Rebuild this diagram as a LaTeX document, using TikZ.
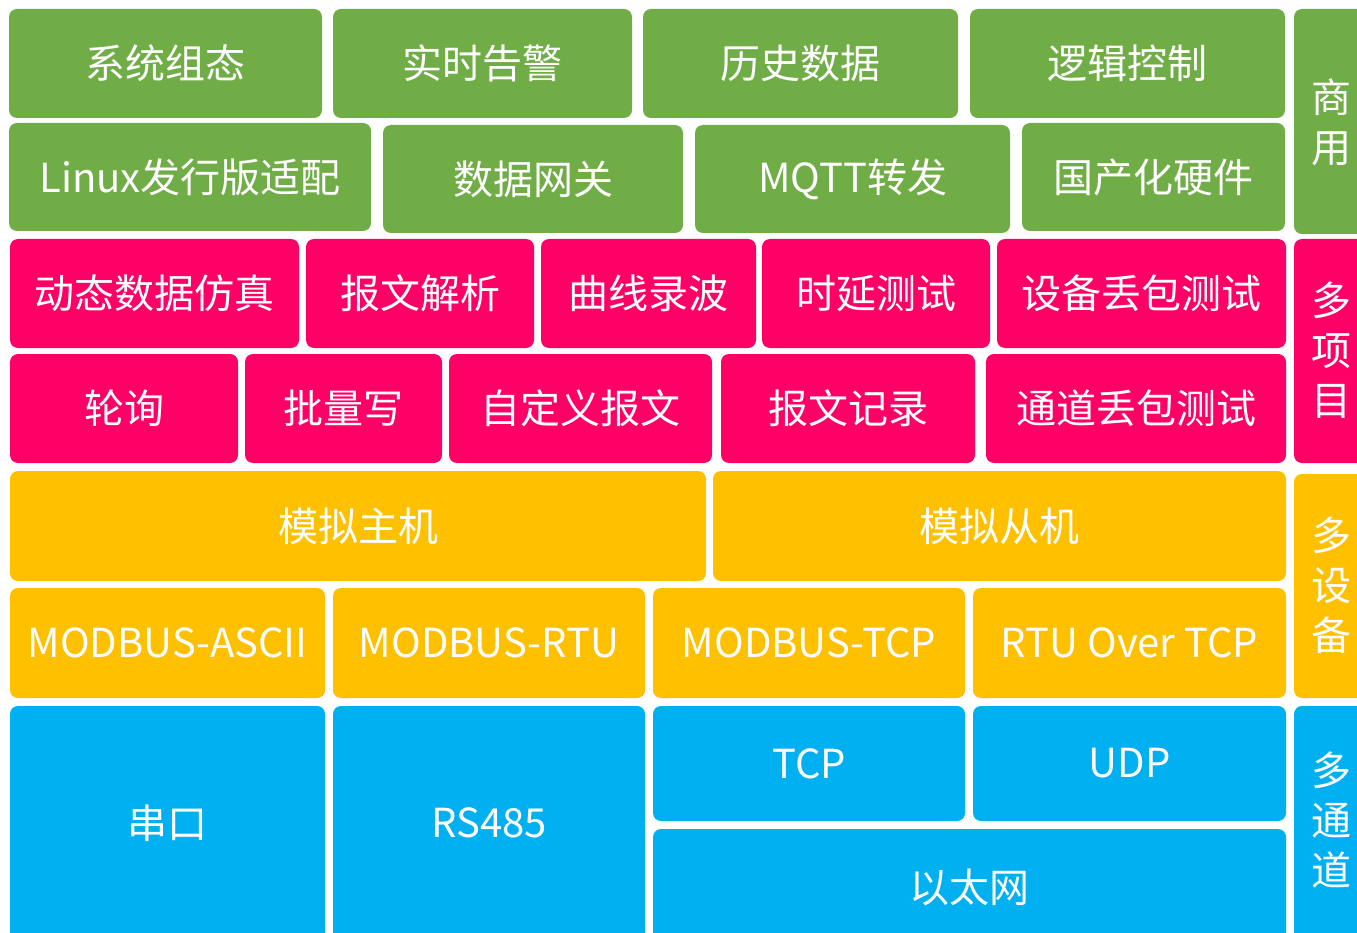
\documentclass[tikz,border=0pt]{standalone}
\usepackage{fontspec}
\setmainfont{Noto Sans CJK SC}
\definecolor{cgreen}{HTML}{70AD47}
\definecolor{cpink}{HTML}{FF0066}
\definecolor{cyellow}{HTML}{FFC000}
\definecolor{cblue}{HTML}{00B0F0}
\tikzset{
  blk/.style={rounded corners=8pt, inner sep=0pt, outer sep=0pt, text=white,
    font=\fontsize{40}{50}\selectfont, align=center},
}
\newcommand\blk[7]{\node[blk,fill=#6,minimum width={#4pt-#2pt},minimum height={#5pt-#3pt}] (#1) at ({(#2+#4)/2},{(#3+#5)/2}) {#7};}
\begin{document}
\begin{tikzpicture}[x=1pt,y=-1pt]
\useasboundingbox (0,0) rectangle (1357,933);
\clip (0,0) rectangle (1357,933);
% green
\blk{a1}{9}{9}{322}{118}{cgreen}{系统组态}
\blk{a2}{333}{9}{632}{118}{cgreen}{实时告警}
\blk{a3}{643}{9}{958}{118}{cgreen}{历史数据}
\blk{a4}{970}{9}{1285}{118}{cgreen}{逻辑控制}
\blk{b1}{9}{123}{371}{231}{cgreen}{Linux发行版适配}
\blk{b2}{383}{125}{683}{233}{cgreen}{数据网关}
\blk{b3}{695}{125}{1010}{233}{cgreen}{MQTT转发}
\blk{b4}{1022}{123}{1285}{231}{cgreen}{国产化硬件}
\node[blk,fill=cgreen,minimum width=80pt,minimum height=225pt,anchor=north west] (s1) at (1294,9) {};
\node[blk,font=\fontsize{40}{50}\selectfont] (s1t) at (1331,122) {商\\用};
% pink
\blk{c1}{10}{239}{299}{348}{cpink}{动态数据仿真}
\blk{c2}{306}{239}{534}{348}{cpink}{报文解析}
\blk{c3}{541}{239}{756}{348}{cpink}{曲线录波}
\blk{c4}{762}{239}{990}{348}{cpink}{时延测试}
\blk{c5}{997}{239}{1286}{348}{cpink}{设备丢包测试}
\blk{d1}{10}{354}{238}{463}{cpink}{轮询}
\blk{d2}{245}{354}{442}{463}{cpink}{批量写}
\blk{d3}{449}{354}{712}{463}{cpink}{自定义报文}
\blk{d4}{721}{354}{975}{463}{cpink}{报文记录}
\blk{d5}{986}{354}{1286}{463}{cpink}{通道丢包测试}
\node[blk,fill=cpink,minimum width=80pt,minimum height=224pt,anchor=north west] (s2) at (1294,239) {};
\node[blk] (s2t) at (1331,350) {多\\项\\目};
% yellow
\blk{e1}{10}{471}{706}{581}{cyellow}{模拟主机}
\blk{e2}{713}{471}{1286}{581}{cyellow}{模拟从机}
\blk{f1}{10}{588}{325}{698}{cyellow}{MODBUS-ASCII}
\blk{f2}{333}{588}{645}{698}{cyellow}{MODBUS-RTU}
\blk{f3}{653}{588}{965}{698}{cyellow}{MODBUS-TCP}
\blk{f4}{973}{588}{1286}{698}{cyellow}{RTU Over TCP}
\node[blk,fill=cyellow,minimum width=80pt,minimum height=224pt,anchor=north west] (s3) at (1294,474) {};
\node[blk] (s3t) at (1331,585) {多\\设\\备};
% blue
\blk{g1}{10}{706}{325}{940}{cblue}{串口}
\blk{g2}{333}{706}{645}{940}{cblue}{RS485}
\blk{g3}{653}{706}{965}{821}{cblue}{TCP}
\blk{g4}{973}{706}{1286}{821}{cblue}{UDP}
\blk{g5}{653}{829}{1286}{945}{cblue}{以太网}
\node[blk,fill=cblue,minimum width=80pt,minimum height=240pt,anchor=north west] (s4) at (1294,706) {};
\node[blk] (s4t) at (1331,820) {多\\通\\道};
\end{tikzpicture}
\end{document}
